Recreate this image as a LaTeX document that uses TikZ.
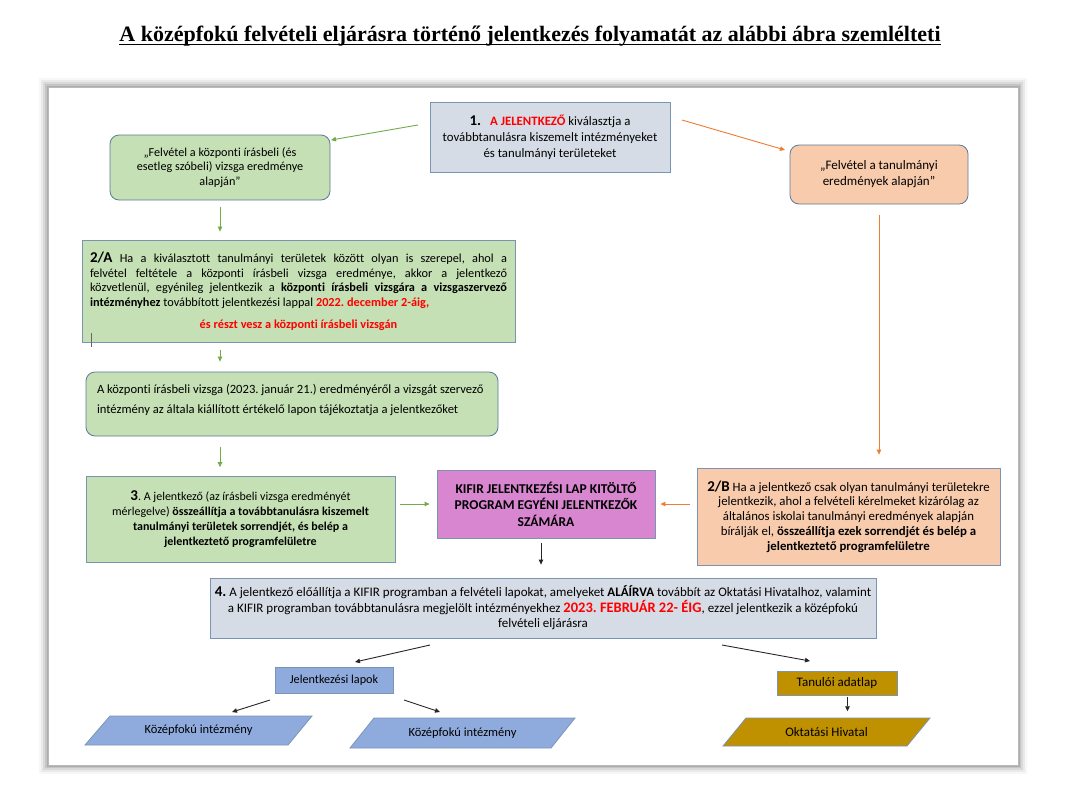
\documentclass[tikz,border=0pt]{standalone}
\usepackage{fontspec}
\setmainfont{Carlito}[Ligatures=NoCommon]
\newfontfamily\titlefont{Liberation Serif}
\usetikzlibrary{arrows.meta,calc}
\frenchspacing
\definecolor{gfill}{HTML}{C5E0B4}
\definecolor{bfill}{HTML}{D6DCE5}
\definecolor{ofill}{HTML}{F8CBAD}
\definecolor{pfill}{HTML}{D886D0}
\definecolor{blfill}{HTML}{8FAADC}
\definecolor{gold}{HTML}{BF9000}
\definecolor{bord}{HTML}{7A94B4}
\definecolor{rbord}{HTML}{5B7A99}
\definecolor{garr}{HTML}{70AD47}
\definecolor{oarr}{HTML}{ED7D31}
\definecolor{tred}{HTML}{FF0000}
\tikzset{
  sqbox/.style={draw=bord, line width=0.8pt, inner sep=0pt, align=center},
  rndbox/.style={sqbox, draw=rbord, rounded corners=9pt},
  paratext/.style={inner sep=0pt, font=\fontsize{12.5}{15}\selectfont},
  paraline/.style={draw=bord, line width=0.8pt},
  garrow/.style={draw=garr, line width=0.9pt, -{Triangle[length=5pt,width=4.5pt]}},
  oarrow/.style={draw=oarr, line width=0.9pt, -{Triangle[length=5pt,width=4.5pt]}},
  karrow/.style={draw=black!85, line width=0.9pt, -{Triangle[length=5pt,width=4.5pt]}}
}
\newcommand{\bn}[1]{{\bfseries\fontsize{15}{15}\selectfont #1}}
\begin{document}
\begin{tikzpicture}[x=1pt,y=-1pt, font=\fontsize{12}{15}\selectfont]
\useasboundingbox (0,0) rectangle (1070,793);
% frame with shadow
\foreach \d/\o in {9/0.03,7/0.05,5/0.07,3/0.09,1.5/0.12}
  \fill[black,opacity=\o] (48-\d,87-\d) rectangle (1018+\d,765+\d);
\fill[white] (48,87) rectangle (1018,765);
\draw[gray!55, line width=0.6pt] (48,87) rectangle (1018,765);
% title
\node[inner sep=0pt, anchor=base, font=\titlefont\bfseries\fontsize{22}{26}\selectfont] (title) at (530,41)
  {A középfokú felvételi eljárásra történő jelentkezés folyamatát az alábbi ábra szemlélteti};
\draw[line width=1.2pt] ($(title.base west)+(0,3.5)$) -- ($(title.base east)+(0,3.5)$);
% boxes
\node[sqbox, fill=bfill, minimum width=240, minimum height=70, font=\fontsize{12.8}{16}\selectfont] (b1) at (550,137)
  {\bn{1.}\hspace{9pt}{\color{tred}\bfseries A JELENTKEZŐ} kiválasztja a\\továbbtanulásra kiszemelt intézményeket\\és tanulmányi területeket};
\node[rndbox, fill=gfill, minimum width=220, minimum height=65, font=\fontsize{12.2}{14.5}\selectfont] (lt) at (220,167.5)
  {„Felvétel a központi írásbeli (és\\esetleg szóbeli) vizsga eredménye\\alapján”};
\node[rndbox, fill=ofill, minimum width=178, minimum height=59, font=\fontsize{13}{16}\selectfont] (rt) at (879,174.5)
  {„Felvétel a tanulmányi\\eredmények alapján”};
\node[sqbox, fill=gfill, minimum width=433, minimum height=102, font=\fontsize{12.3}{14.7}\selectfont] (a2) at (298.5,291)
  {\makebox[417pt][s]{\bn{2/A} Ha a kiválasztott tanulmányi területek között olyan is szerepel, ahol a}\\
  \makebox[417pt][s]{felvétel feltétele a központi írásbeli vizsga eredménye, akkor a jelentkező}\\
  \makebox[417pt][s]{közvetlenül, egyénileg jelentkezik a \textbf{központi írásbeli vizsgára a vizsgaszervező}}\\
  \makebox[417pt][l]{\textbf{intézményhez} továbbított jelentkezési lappal {\color{tred}\bfseries 2022. december 2-áig,}}\\[7pt]
  {\color{tred}\bfseries és részt vesz a központi írásbeli vizsgán}};
\draw[black!60, line width=0.7pt] (91,333) -- (91,347);
\node[rndbox, fill=gfill, minimum width=412, minimum height=64, font=\fontsize{12.6}{20}\selectfont] (res) at (292,404)
  {\parbox[c][64pt][t]{390pt}{\raggedright\vspace{12pt}A központi írásbeli vizsga (2023. január 21.) eredményéről a vizsgát szervező\\intézmény az általa kiállított értékelő lapon tájékoztatja a jelentkezőket}};
\node[sqbox, fill=gfill, minimum width=309, minimum height=86, font=\fontsize{12}{15}\selectfont] (b3) at (240.5,519.5)
  {\bn{3}. A jelentkező (az írásbeli vizsga eredményét\\mérlegelve) \textbf{összeállítja a továbbtanulásra kiszemelt}\\\textbf{tanulmányi területek sorrendjét, és belép a}\\\textbf{jelentkeztető programfelületre}};
\node[sqbox, fill=pfill, minimum width=218, minimum height=68, font=\bfseries\fontsize{13.5}{16.5}\selectfont] (kf) at (546,504)
  {KIFIR JELENTKEZÉSI LAP KITÖLTŐ\\PROGRAM EGYÉNI JELENTKEZŐK\\SZÁMÁRA};
\node[sqbox, fill=ofill, minimum width=303, minimum height=97, font=\fontsize{12.8}{14.8}\selectfont] (b2b) at (848.5,516.5)
  {\bn{2/B} Ha a jelentkező csak olyan tanulmányi területekre\\jelentkezik, ahol a felvételi kérelmeket kizárólag az\\általános iskolai tanulmányi eredmények alapján\\bírálják el, \textbf{összeállítja ezek sorrendjét és belép a}\\\textbf{jelentkeztető programfelületre}};
\node[sqbox, fill=bfill, minimum width=666, minimum height=60, font=\fontsize{13}{15.5}\selectfont] (b4) at (543,608)
  {\bn{4.} A jelentkező előállítja a KIFIR programban a felvételi lapokat, amelyeket \textbf{ALÁÍRVA} továbbít az Oktatási Hivatalhoz, valamint\\a KIFIR programban továbbtanulásra megjelölt intézményekhez {\color{tred}\bfseries\fontsize{14.5}{15}\selectfont 2023. FEBRUÁR 22- ÉIG}, ezzel jelentkezik a középfokú\\felvételi eljárásra};
\node[sqbox, fill=blfill, minimum width=118, minimum height=26, font=\fontsize{12.2}{15}\selectfont] (jl) at (334,680) {Jelentkezési lapok};
\node[sqbox, fill=gold, minimum width=120, minimum height=24, font=\fontsize{13}{15}\selectfont] (ta) at (837,683) {Tanulói adatlap};
% parallelograms
\filldraw[paraline, fill=blfill] (110,716) -- (312,716) -- (288,745) -- (85,745) -- cycle;
\node[paratext] (p1) at (198.5,730.5) {Középfokú intézmény};
\filldraw[paraline, fill=blfill] (374,718) -- (575,718) -- (551,748) -- (350,748) -- cycle;
\node[paratext] (p2) at (462.5,733) {Középfokú intézmény};
\filldraw[paraline, fill=gold] (746,718) -- (930,718) -- (907,746) -- (723,746) -- cycle;
\node[paratext, font=\fontsize{13}{15}\selectfont] (p3) at (826.5,732) {Oktatási Hivatal};
% connectors
\coordinate (g1s) at (418,125); \coordinate (g1e) at (331,140);
\coordinate (o1s) at (682,120); \coordinate (o1e) at (785,150);
\draw[garrow] (g1s) -- (g1e);
\draw[oarrow] (o1s) -- (o1e);
\draw[garrow, shorten <=7pt, shorten >=8pt] (lt.south) -- (lt.south |- a2.north);
\draw[garrow, shorten <=8pt, shorten >=10pt] (a2.south -| lt.south) -- (res.north -| lt.south);
\draw[garrow, shorten <=11pt, shorten >=9pt] (res.south -| lt.south) -- (b3.north -| lt.south);
\draw[oarrow, shorten <=11pt, shorten >=13pt] (rt.south) -- (rt.south |- b2b.north);
\draw[garrow, shorten <=5pt, shorten >=7pt] (kf.west -| b3.east) -- (kf.west);
\draw[oarrow, shorten <=7pt, shorten >=5pt] (kf.east -| b2b.west) -- (kf.east);
\draw[karrow, shorten <=5pt, shorten >=13pt] ($(kf.south)+(-5,0)$) -- ($(kf.south |- b4.north)+(-5,0)$);
\coordinate (k1s) at (430,645); \coordinate (k1e) at (355,662);
\coordinate (k2s) at (722,645); \coordinate (k2e) at (810,661);
\coordinate (k3s) at (270,700); \coordinate (k3e) at (232,712);
\coordinate (k4s) at (404,700); \coordinate (k4e) at (440,712);
\draw[karrow] (k1s) -- (k1e);
\draw[karrow] (k2s) -- (k2e);
\draw[karrow] (k3s) -- (k3e);
\draw[karrow] (k4s) -- (k4e);
\draw[karrow, shorten <=2pt, shorten >=2pt] (ta.south -| p3.north) ++(21,0) -- ($(p3.north)+(21,-14)$);
\end{tikzpicture}
\end{document}
